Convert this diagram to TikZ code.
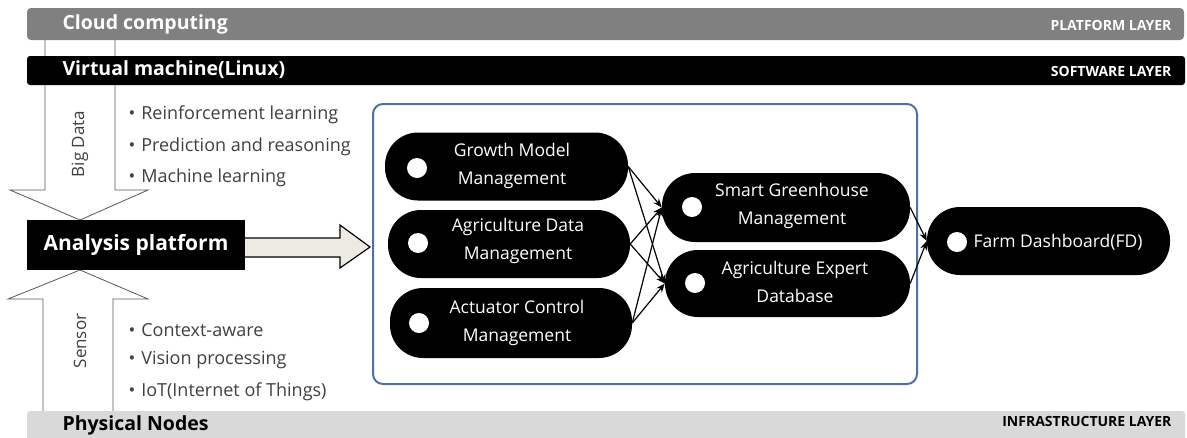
\documentclass[tikz,border=0pt]{standalone}
\usepackage{fontspec}
\setmainfont{Open Sans}
\usetikzlibrary{arrows.meta}
\definecolor{bargray}{HTML}{808080}
\definecolor{barlight}{HTML}{D9D9D9}
\definecolor{txtgray}{HTML}{404040}
\definecolor{linegray}{HTML}{595959}
\definecolor{boxblue}{HTML}{4A72A8}
\definecolor{beige}{HTML}{EDEBE1}
\tikzset{
  pill/.style={fill=black, rounded corners=33pt, minimum width=243pt, minimum height=68pt, inner sep=0pt},
  ptext/.style={text=white, align=center, font=\fontsize{17.5}{28}\selectfont},
  dot/.style={circle, fill=white, minimum size=20pt, inner sep=0pt},
  bartitle/.style={anchor=west, font=\bfseries\fontsize{19.5}{22}\selectfont},
  layertitle/.style={anchor=east, font=\bfseries\fontsize{14}{16}\selectfont},
  item/.style={anchor=west, text=txtgray, font=\fontsize{18}{20}\selectfont},
  vlabel/.style={rotate=90, text=txtgray, font=\fontsize{17}{20}\selectfont},
  flow/.style={-{Stealth[length=9pt,width=7pt]}, line width=1.2pt},
  bigarrow/.style={fill=white, draw=linegray, line width=0.8pt}
}
\begin{document}
\begin{tikzpicture}[x=1pt,y=-1pt]
\useasboundingbox (0,0) rectangle (1187,437);
% vertical arrows
\draw[bigarrow] (45,40) -- (45,190) -- (10,190) -- (80,220) -- (148,190) -- (115,190) -- (115,40);
\draw[bigarrow] (43,412) -- (43,299) -- (8,299) -- (80,270) -- (148,299) -- (113,299) -- (113,412);
\node[vlabel] (bd) at (80,144) {Big Data};
\node[vlabel] (sn) at (80,341) {Sensor};
% layer bars
\fill[bargray, rounded corners=4pt] (27,8) rectangle (1184,40);
\node[bartitle, text=white] (cc) at (59,24) {Cloud computing};
\node[layertitle, text=white] (pl) at (1175,25) {PLATFORM LAYER};
\fill[black, rounded corners=3pt] (27,56) rectangle (1185,85);
\node[bartitle, text=white] (vm) at (59,70) {Virtual machine(Linux)};
\node[layertitle, text=white] (sl) at (1175,71) {SOFTWARE LAYER};
\fill[barlight, rounded corners=3pt] (27,411) rectangle (1185,440);
\node[bartitle, text=black] (pn) at (59,425) {Physical Nodes};
\node[layertitle, text=black] (il) at (1175,421) {INFRASTRUCTURE LAYER};
% bullet items
\node[item] (i1) at (125,115) {\textbullet\hspace{6pt}Reinforcement learning};
\node[item] (i2) at (125,147) {\textbullet\hspace{6pt}Prediction and reasoning};
\node[item] (i3) at (125,178) {\textbullet\hspace{6pt}Machine learning};
\node[item] (i4) at (125,330) {\textbullet\hspace{6pt}Context-aware};
\node[item] (i5) at (125,360) {\textbullet\hspace{6pt}Vision processing};
\node[item] (i6) at (125,392) {\textbullet\hspace{6pt}IoT(Internet of Things)};
% analysis platform
\node[fill=black, minimum width=218pt, minimum height=50pt, inner sep=0pt, text=white, font=\bfseries\fontsize{21}{24}\selectfont] (ap) at (136,245) {Analysis platform};
\draw[fill=beige, draw=black, line width=1.2pt] (ap.east |- 0,238) -- (340,238) -- (340,225) -- (370,247) -- (340,268) -- (340,257) -- (ap.east |- 0,257);
% container
\draw[boxblue, line width=2pt, rounded corners=10pt] (373,104) rectangle (917,384);
% pills
\node[pill] (gm) at (506.5,166.5) {};
\node[pill, minimum width=242pt] (ad) at (509,244) {};
\node[pill, minimum width=242pt, minimum height=70pt] (ac) at (511,323) {};
\node[pill, minimum width=248pt, minimum height=69pt] (sg) at (786,207.5) {};
\node[pill, minimum width=245pt, minimum height=67pt] (ae) at (787.5,283.5) {};
\node[pill] (fd) at (1048.5,241) {};
\node[dot] (gmd) at (417,168) {};
\node[dot] (add) at (418,243) {};
\node[dot] (acd) at (419,323) {};
\node[dot] (sgd) at (692,207) {};
\node[dot] (aed) at (695,283) {};
\node[dot] (fdd) at (957,242) {};
\node[ptext] (gmt) at (512,166) {Growth Model\\Management};
\node[ptext] (adt) at (518,241) {Agriculture Data\\Management};
\node[ptext] (act) at (517,323) {Actuator Control\\Management};
\node[ptext] (sgt) at (792,206) {Smart Greenhouse\\Management};
\node[ptext] (aet) at (795,282) {Agriculture Expert\\Database};
\node[ptext] (fdt) at (1058,242) {Farm Dashboard(FD)};
% connectors
\foreach \s in {gm,ad,ac}{
  \draw[flow] (\s.east) -- (sg.west);
  \draw[flow] (\s.east) -- (ae.west);
}
\draw[flow] (sg.east) -- (fd.west);
\draw[flow] (ae.east) -- (fd.west);
\end{tikzpicture}
\end{document}
